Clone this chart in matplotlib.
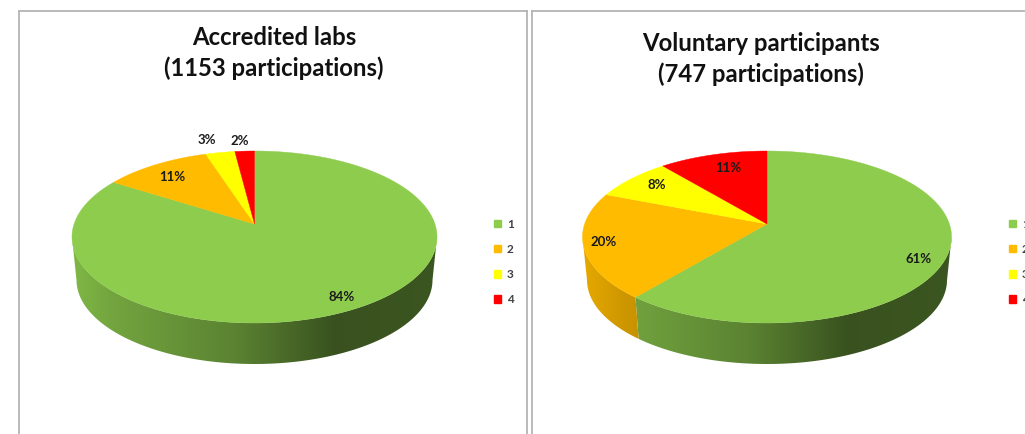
import numpy as np
import matplotlib
matplotlib.use("Agg")
import matplotlib.pyplot as plt
from matplotlib.patches import Patch, Polygon

categories = ["1", "2", "3", "4"]
accredited = [84, 11, 3, 2]
voluntary = [61, 20, 8, 11]
title_accredited = "Accredited labs\n(1153 participations)"
title_voluntary = "Voluntary participants\n(747 participations)"

colors = ["#8ECC4E", "#FFBB00", "#FFFF00", "#FF0000"]

W, H = 1025, 434
plt.rcParams["font.family"] = ["Lato", "DejaVu Sans"]
plt.rcParams["font.weight"] = "bold"


def shade(frac):
    # side wall gets darker going right, like the excel 3d pie
    return np.interp(frac, [0, 0.12, 0.45, 0.72, 1], [0.9, 0.8, 0.64, 0.40, 0.42])


def project(theta, c=0.151):
    # clockwise from 12 o'clock, apex sits above the ellipse centre (perspective)
    X, Y = np.sin(theta), np.cos(theta)
    d = 1 + c * Y
    return X * np.sqrt(1 - c * c) / d, (Y + c) / d


def panel(x0, x1):
    ax = fig.add_axes([x0 / W, 0, (x1 - x0) / W, (H - 11) / H])
    ax.set_xlim(x0, x1)
    ax.set_ylim(H, 11)
    ax.set_xticks([])
    ax.set_yticks([])
    for s in ["left", "top", "right"]:
        ax.spines[s].set_color("#b4b4b4")
        ax.spines[s].set_linewidth(1.3)
    ax.spines["bottom"].set_visible(False)
    return ax


def pie3d(ax, values, cx, cy, rx, ry, label_pos):
    edges = np.cumsum([0] + list(values)) / sum(values) * 2 * np.pi
    bx, by, brx, bry = cx, cy + 43, rx - 4.5, ry - 2
    apex_y = cy - 0.151 * ry
    fracs = np.linspace(0, 1, 400)

    # side wall, gradient image clipped to each slice's front part
    for i, col in enumerate(colors):
        th = np.linspace(edges[i], edges[i + 1], 800)
        px, py = project(th)
        keep = py <= 0
        if keep.sum() < 2:
            continue
        px, py = px[keep], py[keep]
        top = np.c_[cx + rx * px, cy - ry * py]
        bot = np.c_[bx + brx * px, by - bry * py]
        poly = Polygon(np.r_[top, bot[::-1]], closed=True, transform=ax.transData,
                       facecolor="none", edgecolor="none")
        ax.add_patch(poly)
        base = np.array(matplotlib.colors.to_rgb(col))
        grad = shade(fracs)[None, :, None] * base[None, None, :]
        im = ax.imshow(grad, extent=[cx - rx, cx + rx, by + bry, cy - ry],
                       aspect="auto", interpolation="bilinear", zorder=0.5)
        im.set_clip_path(poly)

    # top face
    for i, col in enumerate(colors):
        th = np.linspace(edges[i], edges[i + 1], 300)
        px, py = project(th)
        xs = np.r_[cx, cx + rx * px]
        ys = np.r_[apex_y, cy - ry * py]
        ax.fill(xs, ys, facecolor=col, edgecolor=col, linewidth=0.3, zorder=2)

    for v, (lx, ly) in zip(values, label_pos):
        ax.text(lx, ly, "%d%%" % v, fontsize=9.5, ha="center", va="center",
                color="#1a1a1a", zorder=3)


def legend(ax, x, y):
    handles = [Patch(facecolor=c, edgecolor=c) for c in colors]
    lg = ax.legend(handles, categories, loc="center left", bbox_to_anchor=(x, y),
                   bbox_transform=ax.transData, frameon=False, fontsize=8.5,
                   labelspacing=1.2, handlelength=0.58, handleheight=0.58,
                   handletextpad=0.5, borderpad=0, borderaxespad=0, labelcolor="#404040")
    return lg


fig = plt.figure(figsize=(W / 100, H / 100), dpi=100, facecolor="white")

ax1 = panel(19, 527)
pie3d(ax1, accredited, 254.5, 237, 182.5, 86,
      [(342, 297), (172, 177), (207, 140), (240, 141)])
ax1.text(274, 53, title_accredited, fontsize=17.2, ha="center", va="center",
         linespacing=1.41, color="#111111")
legend(ax1, 494, 262)

ax2 = panel(532, 1120)
pie3d(ax2, voluntary, 767, 237, 184.5, 86,
      [(919, 259), (604, 242), (657, 185), (728, 168)])
ax2.text(761, 59, title_voluntary, fontsize=17.2, ha="center", va="center",
         linespacing=1.41, color="#111111")
legend(ax2, 1009, 262)

fig.savefig("out.png", dpi=100)
